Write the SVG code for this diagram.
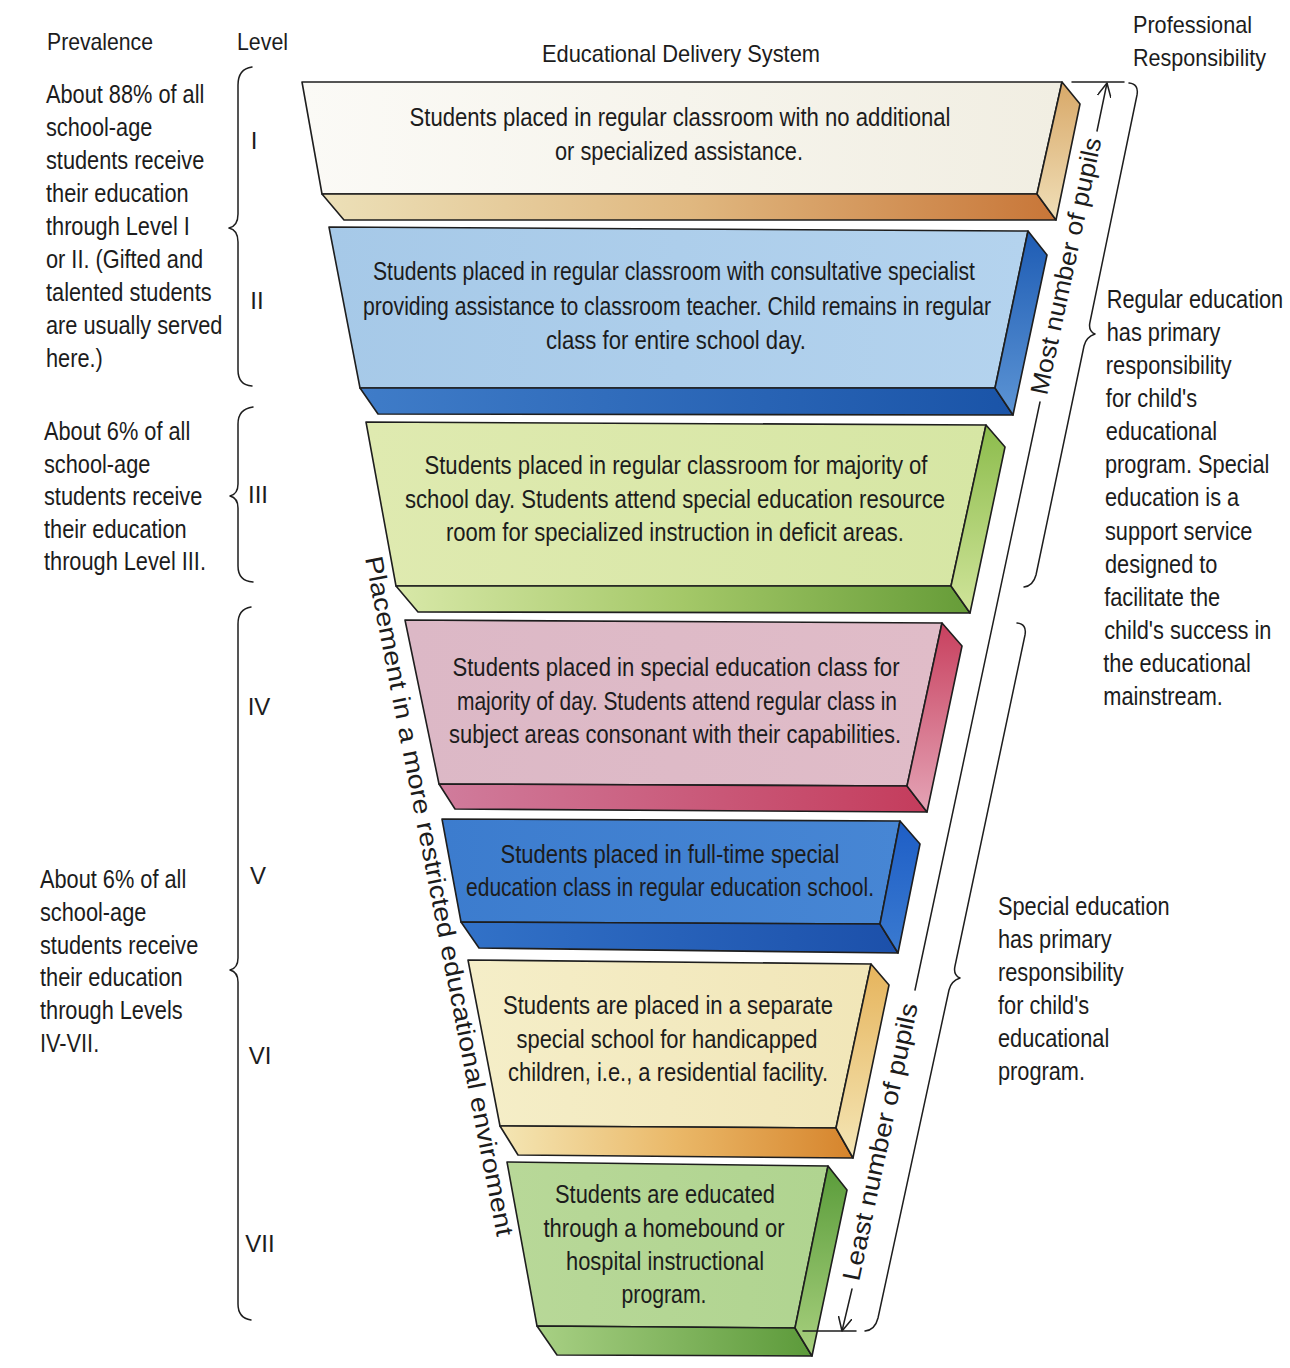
<svg xmlns="http://www.w3.org/2000/svg" width="1290" height="1368" viewBox="0 0 1290 1368">
<style>
.t{font-family:"Liberation Sans",Arial,sans-serif;fill:#1c1c1c}
.bt{font-size:25px;text-anchor:middle}
.col{font-size:25px}
.hd{font-size:24px}
.edge{stroke:#1e1e1e;stroke-width:1.6;stroke-linejoin:round}
.ln{fill:none;stroke:#1e1e1e;stroke-width:1.5;stroke-linecap:round;stroke-linejoin:round}
</style>
<defs>
<marker id="arr" viewBox="0 0 10 10" refX="10" refY="5" markerWidth="14" markerHeight="14" markerUnits="userSpaceOnUse" orient="auto">
<path d="M0,0 L10,5 L0,10" fill="none" stroke="#1e1e1e" stroke-width="1.1"/>
</marker>
<linearGradient id="f1" x1="0" y1="0" x2="1" y2="0"><stop offset="0" stop-color="#fbfaf6"/><stop offset="1" stop-color="#f1eee2"/></linearGradient>
<linearGradient id="l1" x1="0" y1="0" x2="1" y2="0"><stop offset="0" stop-color="#ece0b8"/><stop offset="0.5" stop-color="#e0b880"/><stop offset="1" stop-color="#c87638"/></linearGradient>
<linearGradient id="s1" x1="0" y1="0" x2="0" y2="1"><stop offset="0" stop-color="#d8a868"/><stop offset="1" stop-color="#f0dfb8"/></linearGradient>
<linearGradient id="f2" x1="0" y1="0" x2="1" y2="0"><stop offset="0" stop-color="#a6c9e8"/><stop offset="1" stop-color="#b4d3ee"/></linearGradient>
<linearGradient id="l2" x1="0" y1="0" x2="1" y2="0"><stop offset="0" stop-color="#3f7cc8"/><stop offset="1" stop-color="#1a54a8"/></linearGradient>
<linearGradient id="s2" x1="0" y1="0" x2="0" y2="1"><stop offset="0" stop-color="#1e5cb4"/><stop offset="1" stop-color="#5c94d4"/></linearGradient>
<linearGradient id="f3" x1="0" y1="0" x2="1" y2="0"><stop offset="0" stop-color="#dfeab0"/><stop offset="1" stop-color="#d6e6a4"/></linearGradient>
<linearGradient id="l3" x1="0" y1="0" x2="1" y2="0"><stop offset="0" stop-color="#d8e8a8"/><stop offset="0.5" stop-color="#a4c868"/><stop offset="1" stop-color="#669c38"/></linearGradient>
<linearGradient id="s3" x1="0" y1="0" x2="0" y2="1"><stop offset="0" stop-color="#8cbc4c"/><stop offset="1" stop-color="#d0e49a"/></linearGradient>
<linearGradient id="f4" x1="0" y1="0" x2="1" y2="0"><stop offset="0" stop-color="#dcb8c6"/><stop offset="1" stop-color="#e0bcc8"/></linearGradient>
<linearGradient id="l4" x1="0" y1="0" x2="1" y2="0"><stop offset="0" stop-color="#d07c9c"/><stop offset="1" stop-color="#c43c5c"/></linearGradient>
<linearGradient id="s4" x1="0" y1="0" x2="0" y2="1"><stop offset="0" stop-color="#c8405e"/><stop offset="1" stop-color="#e4a4b6"/></linearGradient>
<linearGradient id="f5" x1="0" y1="0" x2="1" y2="0"><stop offset="0" stop-color="#3c7cce"/><stop offset="1" stop-color="#4786d4"/></linearGradient>
<linearGradient id="l5" x1="0" y1="0" x2="1" y2="0"><stop offset="0" stop-color="#3272c8"/><stop offset="1" stop-color="#1c50aa"/></linearGradient>
<linearGradient id="s5" x1="0" y1="0" x2="0" y2="1"><stop offset="0" stop-color="#1e5ec6"/><stop offset="1" stop-color="#3a7ad0"/></linearGradient>
<linearGradient id="f6" x1="0" y1="0" x2="1" y2="0"><stop offset="0" stop-color="#f5eec8"/><stop offset="1" stop-color="#f1e6b8"/></linearGradient>
<linearGradient id="l6" x1="0" y1="0" x2="1" y2="0"><stop offset="0" stop-color="#f4e6b4"/><stop offset="0.5" stop-color="#eab868"/><stop offset="1" stop-color="#d6842c"/></linearGradient>
<linearGradient id="s6" x1="0" y1="0" x2="0" y2="1"><stop offset="0" stop-color="#e6b45c"/><stop offset="1" stop-color="#f4e6b6"/></linearGradient>
<linearGradient id="f7" x1="0" y1="0" x2="1" y2="0"><stop offset="0" stop-color="#b8d898"/><stop offset="1" stop-color="#b0d490"/></linearGradient>
<linearGradient id="l7" x1="0" y1="0" x2="1" y2="0"><stop offset="0" stop-color="#a8d084"/><stop offset="1" stop-color="#5c9a3a"/></linearGradient>
<linearGradient id="s7" x1="0" y1="0" x2="0" y2="1"><stop offset="0" stop-color="#5a9c3a"/><stop offset="1" stop-color="#a8d07e"/></linearGradient>
</defs>
<rect width="1290" height="1368" fill="#ffffff"/>

<g id="headers" class="t hd">
<text x="47" y="50" textLength="106" lengthAdjust="spacingAndGlyphs">Prevalence</text>
<text x="237" y="50" textLength="51" lengthAdjust="spacingAndGlyphs">Level</text>
<text x="542" y="62" textLength="278" lengthAdjust="spacingAndGlyphs">Educational Delivery System</text>
<text x="1133" y="33" textLength="119" lengthAdjust="spacingAndGlyphs">Professional</text>
<text x="1133" y="66" textLength="133" lengthAdjust="spacingAndGlyphs">Responsibility</text>
</g>

<g id="level1">
<polygon class="edge" fill="url(#f1)" points="302,82 1062,82 1037,194 322,194"/>
<polygon class="edge" fill="url(#l1)" points="322,194 1037,194 1056,220 344,220"/>
<polygon class="edge" fill="url(#s1)" points="1062,82 1080,104 1056,220 1037,194"/>
<text class="t bt" x="680" y="126" textLength="541" lengthAdjust="spacingAndGlyphs">Students placed in regular classroom with no additional</text>
<text class="t bt" x="679" y="160" textLength="248" lengthAdjust="spacingAndGlyphs">or specialized assistance.</text>
</g>

<g id="level2">
<polygon class="edge" fill="url(#f2)" points="329,227 1028,231 995,388 360,388"/>
<polygon class="edge" fill="url(#l2)" points="360,388 995,388 1013,415 378,414"/>
<polygon class="edge" fill="url(#s2)" points="1028,231 1047,255 1013,415 995,388"/>
<text class="t bt" x="674" y="280" textLength="602" lengthAdjust="spacingAndGlyphs">Students placed in regular classroom with consultative specialist</text>
<text class="t bt" x="677" y="315" textLength="628" lengthAdjust="spacingAndGlyphs">providing assistance to classroom teacher. Child remains in regular</text>
<text class="t bt" x="676" y="349" textLength="260" lengthAdjust="spacingAndGlyphs">class for entire school day.</text>
</g>

<g id="level3">
<polygon class="edge" fill="url(#f3)" points="366,422 986,425 951,586 396,586"/>
<polygon class="edge" fill="url(#l3)" points="396,586 951,586 970,613 418,612"/>
<polygon class="edge" fill="url(#s3)" points="986,425 1005,447 970,613 951,586"/>
<text class="t bt" x="676" y="474" textLength="503" lengthAdjust="spacingAndGlyphs">Students placed in regular classroom for majority of</text>
<text class="t bt" x="675" y="508" textLength="540" lengthAdjust="spacingAndGlyphs">school day. Students attend special education resource</text>
<text class="t bt" x="675" y="541" textLength="458" lengthAdjust="spacingAndGlyphs">room for specialized instruction in deficit areas.</text>
</g>

<g id="level4">
<polygon class="edge" fill="url(#f4)" points="405,620 942,623 907,786 439,784"/>
<polygon class="edge" fill="url(#l4)" points="439,784 907,786 927,812 455,809"/>
<polygon class="edge" fill="url(#s4)" points="942,623 962,646 927,812 907,786"/>
<text class="t bt" x="676" y="676" textLength="447" lengthAdjust="spacingAndGlyphs">Students placed in special education class for</text>
<text class="t bt" x="677" y="710" textLength="440" lengthAdjust="spacingAndGlyphs">majority of day. Students attend regular class in</text>
<text class="t bt" x="675" y="743" textLength="452" lengthAdjust="spacingAndGlyphs">subject areas consonant with their capabilities.</text>
</g>

<g id="level5">
<polygon class="edge" fill="url(#f5)" points="442,819 900,821 880,924 461,922"/>
<polygon class="edge" fill="url(#l5)" points="461,922 880,924 898,953 479,948"/>
<polygon class="edge" fill="url(#s5)" points="900,821 920,844 898,953 880,924"/>
<text class="t bt" x="670" y="863" textLength="339" lengthAdjust="spacingAndGlyphs">Students placed in full-time special</text>
<text class="t bt" x="670" y="896" textLength="408" lengthAdjust="spacingAndGlyphs">education class in regular education school.</text>
</g>

<g id="level6">
<polygon class="edge" fill="url(#f6)" points="468,960 871,964 836,1128 500,1126"/>
<polygon class="edge" fill="url(#l6)" points="500,1126 836,1128 853,1158 518,1155"/>
<polygon class="edge" fill="url(#s6)" points="871,964 889,985 853,1158 836,1128"/>
<text class="t bt" x="668" y="1014" textLength="330" lengthAdjust="spacingAndGlyphs">Students are placed in a separate</text>
<text class="t bt" x="667" y="1048" textLength="301" lengthAdjust="spacingAndGlyphs">special school for handicapped</text>
<text class="t bt" x="668" y="1081" textLength="320" lengthAdjust="spacingAndGlyphs">children, i.e., a residential facility.</text>
</g>

<g id="level7">
<polygon class="edge" fill="url(#f7)" points="507,1162 828,1166 795,1328 537,1326"/>
<polygon class="edge" fill="url(#l7)" points="537,1326 795,1328 812,1356 557,1355"/>
<polygon class="edge" fill="url(#s7)" points="828,1166 847,1190 812,1356 795,1328"/>
<text class="t bt" x="665" y="1203" textLength="220" lengthAdjust="spacingAndGlyphs">Students are educated</text>
<text class="t bt" x="664" y="1237" textLength="241" lengthAdjust="spacingAndGlyphs">through a homebound or</text>
<text class="t bt" x="665" y="1270" textLength="198" lengthAdjust="spacingAndGlyphs">hospital instructional</text>
<text class="t bt" x="664" y="1303" textLength="85" lengthAdjust="spacingAndGlyphs">program.</text>
</g>

<g id="level-labels" class="t" style="font-size:24px;text-anchor:middle">
<text x="254" y="149">I</text>
<text x="257" y="309">II</text>
<text x="258" y="503">III</text>
<text x="259" y="715">IV</text>
<text x="258" y="884">V</text>
<text x="260" y="1064">VI</text>
<text x="260" y="1252">VII</text>
</g>

<g id="prevalence-1" transform="translate(46,0) scale(0.87,1)" class="t col">
<text x="0" y="103">About 88% of all</text>
<text x="0" y="136">school-age</text>
<text x="0" y="169">students receive</text>
<text x="0" y="202">their education</text>
<text x="0" y="235">through Level I</text>
<text x="0" y="268">or II. (Gifted and</text>
<text x="0" y="301">talented students</text>
<text x="0" y="334">are usually served</text>
<text x="0" y="367">here.)</text>
</g>
<g id="prevalence-2" transform="translate(44,0) scale(0.87,1)" class="t col">
<text x="0" y="440">About 6% of all</text>
<text x="0" y="473">school-age</text>
<text x="0" y="505">students receive</text>
<text x="0" y="538">their education</text>
<text x="0" y="570">through Level III.</text>
</g>
<g id="prevalence-3" transform="translate(40,0) scale(0.87,1)" class="t col">
<text x="0" y="888">About 6% of all</text>
<text x="0" y="921">school-age</text>
<text x="0" y="954">students receive</text>
<text x="0" y="986">their education</text>
<text x="0" y="1019">through Levels</text>
<text x="0" y="1052">IV-VII.</text>
</g>

<g id="responsibility-regular" transform="translate(1105,0) scale(0.87,1)" class="t col">
<text x="2" y="308">Regular education</text>
<text x="2" y="341">has primary</text>
<text x="1" y="374">responsibility</text>
<text x="1" y="407">for child's</text>
<text x="1" y="440">educational</text>
<text x="0" y="473">program. Special</text>
<text x="0" y="506">education is a</text>
<text x="0" y="540">support service</text>
<text x="0" y="573">designed to</text>
<text x="-1" y="606">facilitate the</text>
<text x="-1" y="639">child's success in</text>
<text x="-2" y="672">the educational</text>
<text x="-2" y="705">mainstream.</text>
</g>
<g id="responsibility-special" transform="translate(998,0) scale(0.87,1)" class="t col">
<text x="0" y="915">Special education</text>
<text x="0" y="948">has primary</text>
<text x="0" y="981">responsibility</text>
<text x="0" y="1014">for child's</text>
<text x="0" y="1047">educational</text>
<text x="0" y="1080">program.</text>
</g>

<g id="placement-label" class="t">
<text transform="translate(365,558) rotate(79)" x="0" y="0" style="font-size:25px" textLength="692" lengthAdjust="spacingAndGlyphs">Placement in a more restricted educational enviroment</text>
</g>

<g id="pupils-labels" class="t">
<text transform="translate(1047,396) rotate(-78)" x="0" y="0" style="font-size:25px" textLength="262" lengthAdjust="spacingAndGlyphs">Most number of pupils</text>
<text transform="translate(859,1282) rotate(-78)" x="0" y="0" style="font-size:25px" textLength="283" lengthAdjust="spacingAndGlyphs">Least number of pupils</text>
</g>

<g id="connectors">
<line class="ln" x1="1072" y1="82" x2="1124" y2="82"/>
<line class="ln" x1="803" y1="1331" x2="856" y2="1331"/>
<path class="ln" d="M1097,131 L1107,83" marker-end="url(#arr)"/>
<path class="ln" d="M1040,402 L915,990"/>
<path class="ln" d="M852,1289 L842,1331" marker-end="url(#arr)"/>
<path class="ln" d="M252,67 Q238,69 238,85 L238,214 Q238,226 229,228 Q238,230 238,242 L238,370 Q238,385 252,386"/>
<path class="ln" d="M253,407 Q238,409 238,424 L238,484 Q238,494 230,496 Q238,498 238,508 L238,566 Q238,581 253,582"/>
<path class="ln" d="M251,607 Q238,609 238,624 L238,958 Q238,968 230,970 Q238,972 238,982 L238,1304 Q238,1318 251,1320"/>
<path class="ln" d="M1129,83 Q1139,84 1137,95 L1090,322 Q1088,331 1095,334 Q1086,337 1084,346 L1036,575 Q1033,586 1024,587"/>
<path class="ln" d="M1017,623 Q1027,624 1025,635 L955,966 Q953,975 960,978 Q951,981 949,990 L878,1318 Q875,1330 865,1331"/>
</g>
</svg>
